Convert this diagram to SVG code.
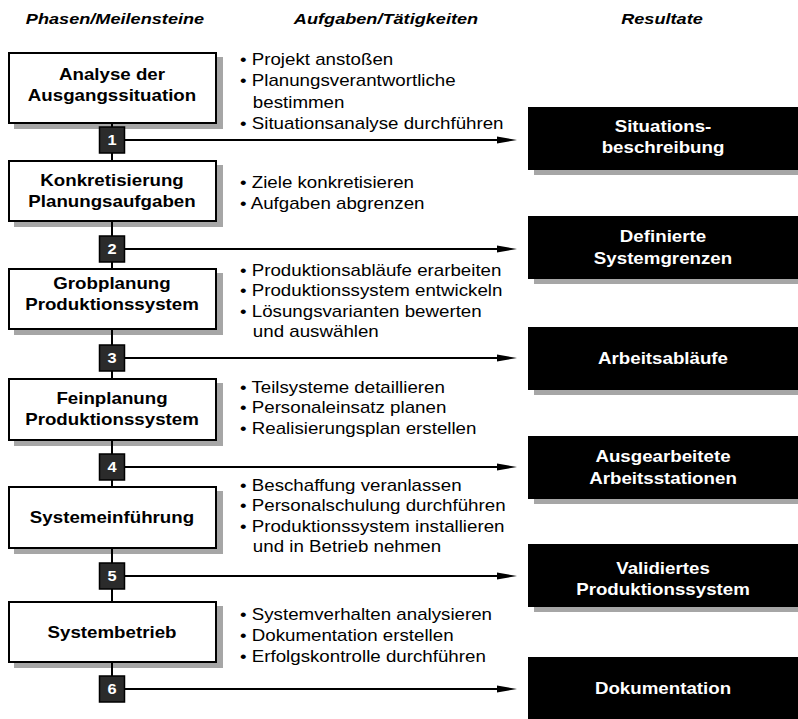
<svg xmlns="http://www.w3.org/2000/svg" width="798" height="719" viewBox="0 0 798 719">
  <style>
    text { font-family: "Liberation Sans", Arial, sans-serif; font-size: 16px; fill: #000; }
    .head { font-weight: bold; font-style: italic; text-anchor: middle; font-size: 15.5px; }
    .phase { font-weight: bold; text-anchor: middle; }
    .result { font-weight: bold; text-anchor: middle; fill: #fff; }
    .num { font-weight: bold; text-anchor: middle; fill: #fff; font-size: 14px; }
    .box { fill: #fff; stroke: #000; stroke-width: 2; }
    .shadow { fill: #a6a6a6; }
    .res { fill: #000; }
    .ms { fill: #2b2b2b; stroke: #000; stroke-width: 1.5; }
    .conn { stroke: #000; stroke-width: 2; fill: none; }
  </style>
  <defs>
    <marker id="arrow" viewBox="0 0 20 8" markerWidth="20" markerHeight="8" refX="1" refY="4" markerUnits="userSpaceOnUse" orient="auto">
      <path d="M0,0.6 L20,4 L0,7.4 z" fill="#000"/>
    </marker>
  </defs>

  <rect width="798" height="719" fill="#fff"/>

  <!-- column headings -->
  <g id="headings">
    <text class="head" x="0" y="24" transform="translate(115 0) scale(1.17 1)">Phasen/Meilensteine</text>
    <text class="head" x="0" y="24" transform="translate(386 0) scale(1.17 1)">Aufgaben/Tätigkeiten</text>
    <text class="head" x="0" y="24" transform="translate(662 0) scale(1.17 1)">Resultate</text>
  </g>

  <!-- shadows of the phase boxes -->
  <g id="phase-shadows">
    <rect class="shadow" x="14" y="57" width="209" height="72"/>
    <rect class="shadow" x="14" y="165" width="209" height="62"/>
    <rect class="shadow" x="14" y="273" width="209" height="62"/>
    <rect class="shadow" x="14" y="383" width="209" height="63"/>
    <rect class="shadow" x="14" y="491" width="209" height="63"/>
    <rect class="shadow" x="14" y="606" width="209" height="62"/>
  </g>

  <!-- connectors: phase spine and milestone arrows -->
  <g id="connectors">
    <line class="conn" x1="112" y1="124" x2="112" y2="677"/>
    <line class="conn" x1="125" y1="140" x2="498" y2="140" marker-end="url(#arrow)"/>
    <line class="conn" x1="125" y1="249" x2="498" y2="249" marker-end="url(#arrow)"/>
    <line class="conn" x1="125" y1="358" x2="498" y2="358" marker-end="url(#arrow)"/>
    <line class="conn" x1="125" y1="467" x2="498" y2="467" marker-end="url(#arrow)"/>
    <line class="conn" x1="125" y1="576" x2="498" y2="576" marker-end="url(#arrow)"/>
    <line class="conn" x1="125" y1="689" x2="498" y2="689" marker-end="url(#arrow)"/>
  </g>

  <!-- phases -->
  <g id="phase-1">
    <rect class="box" x="9" y="53" width="207" height="70"/>
    <text class="phase" x="0" y="80" transform="translate(112 0) scale(1.17 1)">Analyse der</text>
    <text class="phase" x="0" y="101" transform="translate(112 0) scale(1.17 1)">Ausgangssituation</text>
  </g>
  <g id="phase-2">
    <rect class="box" x="9" y="161" width="207" height="60"/>
    <text class="phase" x="0" y="186" transform="translate(112 0) scale(1.17 1)">Konkretisierung</text>
    <text class="phase" x="0" y="207" transform="translate(112 0) scale(1.17 1)">Planungsaufgaben</text>
  </g>
  <g id="phase-3">
    <rect class="box" x="9" y="269" width="207" height="60"/>
    <text class="phase" x="0" y="289" transform="translate(112 0) scale(1.17 1)">Grobplanung</text>
    <text class="phase" x="0" y="310" transform="translate(112 0) scale(1.17 1)">Produktionssystem</text>
  </g>
  <g id="phase-4">
    <rect class="box" x="9" y="379" width="207" height="61"/>
    <text class="phase" x="0" y="404" transform="translate(112 0) scale(1.17 1)">Feinplanung</text>
    <text class="phase" x="0" y="425" transform="translate(112 0) scale(1.17 1)">Produktionssystem</text>
  </g>
  <g id="phase-5">
    <rect class="box" x="9" y="487" width="207" height="61"/>
    <text class="phase" x="0" y="523" transform="translate(112 0) scale(1.17 1)">Systemeinführung</text>
  </g>
  <g id="phase-6">
    <rect class="box" x="9" y="602" width="207" height="60"/>
    <text class="phase" x="0" y="638" transform="translate(112 0) scale(1.17 1)">Systembetrieb</text>
  </g>

  <!-- milestones -->
  <g id="milestone-1"><rect class="ms" x="99.5" y="127" width="25" height="26"/><text class="num" x="0" y="145" transform="translate(112 0) scale(1.17 1)">1</text></g>
  <g id="milestone-2"><rect class="ms" x="99.5" y="236" width="25" height="26"/><text class="num" x="0" y="254" transform="translate(112 0) scale(1.17 1)">2</text></g>
  <g id="milestone-3"><rect class="ms" x="99.5" y="345" width="25" height="26"/><text class="num" x="0" y="363" transform="translate(112 0) scale(1.17 1)">3</text></g>
  <g id="milestone-4"><rect class="ms" x="99.5" y="454" width="25" height="26"/><text class="num" x="0" y="472" transform="translate(112 0) scale(1.17 1)">4</text></g>
  <g id="milestone-5"><rect class="ms" x="99.5" y="563" width="25" height="26"/><text class="num" x="0" y="581" transform="translate(112 0) scale(1.17 1)">5</text></g>
  <g id="milestone-6"><rect class="ms" x="99.5" y="676" width="25" height="26"/><text class="num" x="0" y="694" transform="translate(112 0) scale(1.17 1)">6</text></g>

  <!-- tasks per phase -->
  <g id="tasks-1" transform="translate(240 0) scale(1.17 1)">
    <text y="65">• Projekt anstoßen</text>
    <text y="86.5">• Planungsverantwortliche</text>
    <text x="11" y="108">bestimmen</text>
    <text y="129.5">• Situationsanalyse durchführen</text>
  </g>
  <g id="tasks-2" transform="translate(240 0) scale(1.17 1)">
    <text y="188">• Ziele konkretisieren</text>
    <text y="209.5">• Aufgaben abgrenzen</text>
  </g>
  <g id="tasks-3" transform="translate(240 0) scale(1.17 1)">
    <text y="276">• Produktionsabläufe erarbeiten</text>
    <text y="296.5">• Produktionssystem entwickeln</text>
    <text y="317">• Lösungsvarianten bewerten</text>
    <text x="11" y="337.5">und auswählen</text>
  </g>
  <g id="tasks-4" transform="translate(240 0) scale(1.17 1)">
    <text y="393">• Teilsysteme detaillieren</text>
    <text y="413.5">• Personaleinsatz planen</text>
    <text y="434">• Realisierungsplan erstellen</text>
  </g>
  <g id="tasks-5" transform="translate(240 0) scale(1.17 1)">
    <text y="491">• Beschaffung veranlassen</text>
    <text y="511.5">• Personalschulung durchführen</text>
    <text y="532">• Produktionssystem installieren</text>
    <text x="11" y="552.5">und in Betrieb nehmen</text>
  </g>
  <g id="tasks-6" transform="translate(240 0) scale(1.17 1)">
    <text y="620">• Systemverhalten analysieren</text>
    <text y="641">• Dokumentation erstellen</text>
    <text y="662">• Erfolgskontrolle durchführen</text>
  </g>

  <!-- results -->
  <g id="result-1">
    <rect class="shadow" x="534" y="112" width="272" height="63"/>
    <rect class="res" x="528" y="107" width="272" height="63"/>
    <text class="result" x="0" y="132" transform="translate(663 0) scale(1.17 1)">Situations-</text>
    <text class="result" x="0" y="153.5" transform="translate(663 0) scale(1.17 1)">beschreibung</text>
  </g>
  <g id="result-2">
    <rect class="shadow" x="534" y="221" width="272" height="63"/>
    <rect class="res" x="528" y="216" width="272" height="63"/>
    <text class="result" x="0" y="242.5" transform="translate(663 0) scale(1.17 1)">Definierte</text>
    <text class="result" x="0" y="264" transform="translate(663 0) scale(1.17 1)">Systemgrenzen</text>
  </g>
  <g id="result-3">
    <rect class="shadow" x="534" y="332" width="272" height="63"/>
    <rect class="res" x="528" y="327" width="272" height="63"/>
    <text class="result" x="0" y="364" transform="translate(663 0) scale(1.17 1)">Arbeitsabläufe</text>
  </g>
  <g id="result-4">
    <rect class="shadow" x="534" y="441" width="272" height="63"/>
    <rect class="res" x="528" y="436" width="272" height="63"/>
    <text class="result" x="0" y="462.5" transform="translate(663 0) scale(1.17 1)">Ausgearbeitete</text>
    <text class="result" x="0" y="484" transform="translate(663 0) scale(1.17 1)">Arbeitsstationen</text>
  </g>
  <g id="result-5">
    <rect class="shadow" x="534" y="549" width="272" height="63"/>
    <rect class="res" x="528" y="544" width="272" height="63"/>
    <text class="result" x="0" y="574" transform="translate(663 0) scale(1.17 1)">Validiertes</text>
    <text class="result" x="0" y="595" transform="translate(663 0) scale(1.17 1)">Produktionssystem</text>
  </g>
  <g id="result-6">
    <rect class="res" x="528" y="657" width="272" height="63"/>
    <text class="result" x="0" y="694" transform="translate(663 0) scale(1.17 1)">Dokumentation</text>
  </g>
</svg>
